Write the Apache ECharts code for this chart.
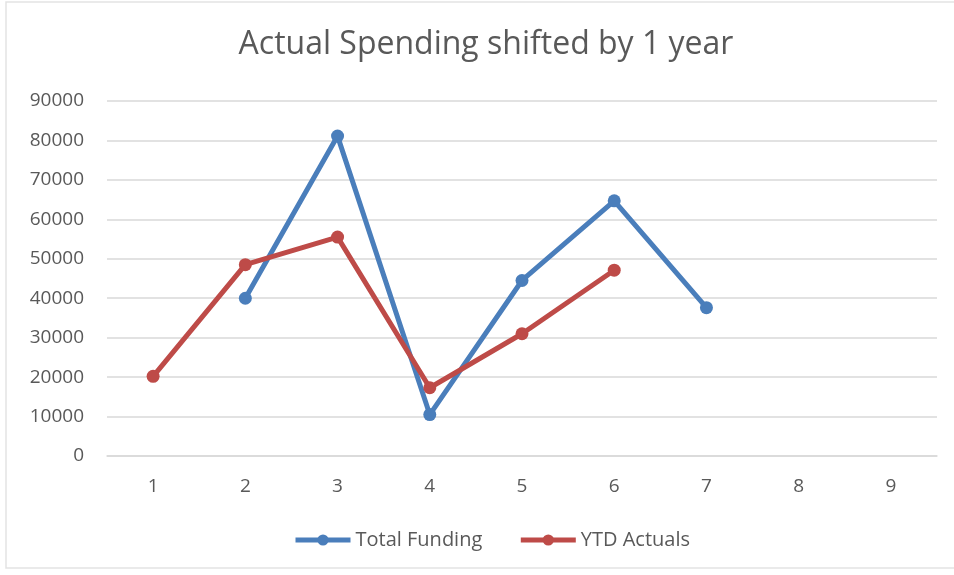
<!DOCTYPE html>
<html>
<head>
<meta charset="utf-8">
<script src="https://cdn.jsdelivr.net/npm/echarts@6/dist/echarts.min.js"></script>
<style>
html,body{margin:0;padding:0;background:#fff;}
#chart{width:954px;height:575px;}
</style>
</head>
<body>
<div id="chart"></div>
<script>
const categories = ['1','2','3','4','5','6','7','8','9'];
const totalFunding = [null, 40000, 81100, 10500, 44500, 64700, 37600, null, null];
const ytdActuals = [20200, 48500, 55500, 17300, 31000, 47100, null, null, null];
const yTicks = { min: 0, max: 90000, interval: 10000 };

const FONT = '"Open Sans", "Liberation Sans", sans-serif';
const chart = echarts.init(document.getElementById('chart'));
chart.setOption({
  backgroundColor: '#ffffff',
  animation: false,
  title: {
    text: 'Actual Spending shifted by 1 year',
    left: 481,
    textAlign: 'center',
    top: 24,
    textStyle: { fontFamily: FONT, fontSize: 32, fontWeight: 'normal', color: '#595959' }
  },
  graphic: [{
    type: 'rect',
    shape: { x: 6, y: 2, width: 960, height: 566 },
    style: { fill: 'none', stroke: '#e3e3e3', lineWidth: 1.5 },
    silent: true
  }],
  grid: { left: 107, right: 17, top: 101, bottom: 119, containLabel: false },
  legend: {
    bottom: 20,
    left: 288,
    itemWidth: 55,
    itemHeight: 14,
    itemGap: 36,
    lineStyle: { width: 5 },
    textStyle: { fontFamily: FONT, fontSize: 20, color: '#595959' },
    data: ['Total Funding', 'YTD Actuals']
  },
  xAxis: {
    type: 'category',
    data: categories,
    boundaryGap: true,
    axisLine: { show: true, lineStyle: { color: '#d9d9d9', width: 1.5 } },
    axisTick: { show: false },
    axisLabel: { fontFamily: FONT, fontSize: 19, color: '#595959', margin: 21 }
  },
  yAxis: {
    type: 'value',
    min: yTicks.min, max: yTicks.max, interval: yTicks.interval,
    axisLine: { show: false },
    axisTick: { show: false },
    splitLine: { lineStyle: { color: '#d9d9d9', width: 1.5 } },
    axisLabel: { fontFamily: FONT, fontSize: 19, color: '#595959', margin: 23,
      formatter: v => String(v) }
  },
  series: [
    {
      name: 'Total Funding', type: 'line', data: totalFunding,
      symbol: 'circle', symbolSize: 13,
      lineStyle: { color: '#4A7EBB', width: 5 },
      itemStyle: { color: '#4A7EBB' }
    },
    {
      name: 'YTD Actuals', type: 'line', data: ytdActuals,
      symbol: 'circle', symbolSize: 13,
      lineStyle: { color: '#BE4B48', width: 5 },
      itemStyle: { color: '#BE4B48' }
    }
  ]
});
</script>
</body>
</html>
